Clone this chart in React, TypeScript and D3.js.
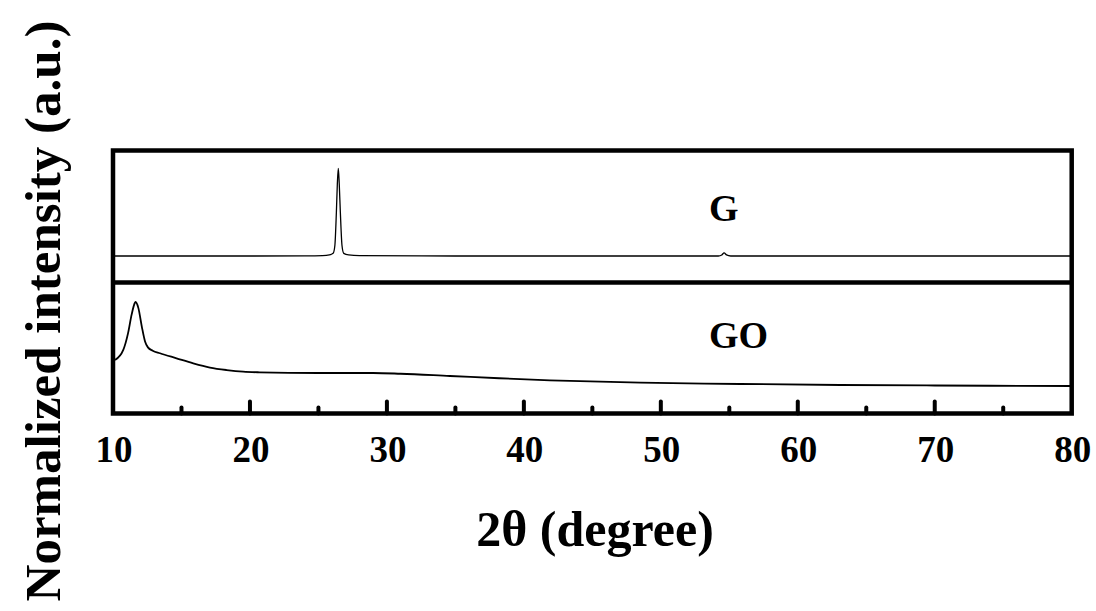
import React from 'react';
import * as d3 from 'd3';

// XRD patterns (2θ in degrees, intensity normalised per panel)
const gTheta = [10, 15, 20, 24, 25.3, 25.8, 26.07, 26.2, 26.31, 26.38, 26.45, 26.52, 26.6, 26.72, 26.85, 27.2, 28, 35, 45, 54.2, 54.45, 54.62, 54.8, 55.1, 65, 80];
const gInt = [0, 0, 0, 0.002, 0.005, 0.012, 0.03, 0.12, 0.5, 0.82, 1, 0.82, 0.5, 0.12, 0.03, 0.012, 0.004, 0, 0, 0, 0.012, 0.035, 0.012, 0, 0, 0];

const goTheta = [10.15, 10.75, 11.1, 11.36, 11.6, 11.65, 11.85, 12.1, 12.34, 12.55, 12.9, 13.43, 14.64, 15.86, 17.08, 18.3, 19.5, 20.7, 25, 29, 31, 34.6, 38.2, 41.9, 48.5, 55.8, 63.1, 70, 80];
const goInt = [0.31, 0.43, 0.63, 0.85, 0.99, 1, 0.93, 0.71, 0.53, 0.46, 0.42, 0.39, 0.33, 0.27, 0.22, 0.19, 0.17, 0.163, 0.155, 0.155, 0.146, 0.119, 0.092, 0.068, 0.039, 0.024, 0.012, 0.006, 0];

const majorTicks = [10, 20, 30, 40, 50, 60, 70, 80];
const minorTicks = [15, 25, 35, 45, 55, 65, 75];

const seriesLabels = ['G', 'GO'];

const font = '"Liberation Serif", "Times New Roman", serif';

export default function App() {
  const width = 1096, height = 611;
  const left = 113, right = 1071.7, top = 150.5, bottom = 413.5, mid = 282.5;

  const x = d3.scaleLinear().domain([10, 80]).range([left, right]);
  const yG = d3.scaleLinear().domain([0, 1]).range([256, 168.3]);
  const yGO = d3.scaleLinear().domain([0, 1]).range([386, 302]);

  const gLine = d3.line<number>()
    .x((d, i) => x(gTheta[i]))
    .y(d => yG(d))
    .curve(d3.curveMonotoneX);
  const goLine = d3.line<number>()
    .x((d, i) => x(goTheta[i]))
    .y(d => yGO(d))
    .curve(d3.curveMonotoneX);

  return (
    <svg width={width} height={height} style={{ position: 'absolute', left: 0, top: 0, background: '#fff' }}>
      <path d={gLine(gInt) || ''} fill="none" stroke="#000" strokeWidth={1.3} />
      <path d={goLine(goInt) || ''} fill="none" stroke="#000" strokeWidth={1.8} />

      {/* frame and panel divider */}
      <rect x={left} y={top} width={right - left} height={bottom - top} fill="none" stroke="#000" strokeWidth={4.5} />
      <line x1={left} x2={right} y1={mid} y2={mid} stroke="#000" strokeWidth={4.5} />

      {/* inward ticks */}
      {majorTicks.slice(1, -1).map(t => (
        <line key={'M' + t} x1={x(t)} x2={x(t)} y1={bottom} y2={bottom - 12} stroke="#000" strokeWidth={4} strokeLinecap="round" />
      ))}
      {minorTicks.map(t => (
        <line key={'m' + t} x1={x(t)} x2={x(t)} y1={bottom} y2={bottom - 6} stroke="#000" strokeWidth={4} strokeLinecap="round" />
      ))}

      {majorTicks.map(t => (
        <text key={'l' + t} x={x(t) + 1} y={462} textAnchor="middle" fontFamily={font} fontWeight="bold" fontSize={37}>{t}</text>
      ))}

      <text x={709} y={220.5} fontFamily={font} fontWeight="bold" fontSize={38}>{seriesLabels[0]}</text>
      <text x={709} y={348} fontFamily={font} fontWeight="bold" fontSize={38}>{seriesLabels[1]}</text>

      <text x={595} y={546} textAnchor="middle" fontFamily={font} fontWeight="bold" fontSize={50}>2θ (degree)</text>
      <text transform="translate(60,311) rotate(-90)" textAnchor="middle" fontFamily={font} fontWeight="bold" fontSize={51}>Normalized intensity (a.u.)</text>
    </svg>
  );
}
